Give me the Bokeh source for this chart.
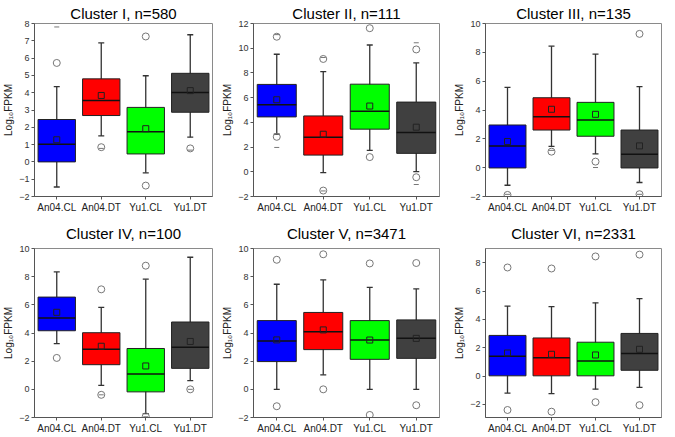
from bokeh.plotting import figure
from bokeh.layouts import gridplot
from bokeh.models import FixedTicker, Range1d
from bokeh.embed import file_html
from bokeh.resources import INLINE

samples = ["An04.CL", "An04.DT", "Yu1.CL", "Yu1.DT"]
colors = ["#0000FF", "#FF0000", "#00FF00", "#404040"]

titles = ["Cluster I, n=580", "Cluster II, n=111", "Cluster III, n=135",
          "Cluster IV, n=100", "Cluster V, n=3471", "Cluster VI, n=2331"]

# Cluster I
c1_low = [-1.45, 1.50, -0.63, 1.43]
c1_q1 = [0.00, 2.68, 0.46, 2.87]
c1_med = [1.02, 3.55, 1.74, 4.01]
c1_q3 = [2.45, 4.80, 3.15, 5.12]
c1_high = [4.35, 6.88, 4.98, 7.35]
c1_mean = [1.28, 3.84, 1.92, 4.12]
c1_out_cat = ["An04.CL", "An04.DT", "Yu1.CL", "Yu1.CL", "Yu1.DT"]
c1_out_val = [5.72, 0.85, 7.25, -1.37, 0.78]
c1_ext_cat = ["An04.CL", "An04.DT", "Yu1.DT"]
c1_ext_val = [7.80, 0.78, 0.68]

# Cluster II
c2_low = [3.04, -0.07, 1.73, 0.01]
c2_q1 = [4.44, 1.35, 3.45, 1.49]
c2_med = [5.43, 2.80, 4.89, 3.18]
c2_q3 = [7.07, 4.52, 7.09, 5.64]
c2_high = [9.51, 8.11, 10.26, 8.81]
c2_mean = [5.83, 3.04, 5.32, 3.61]
c2_out_cat = ["An04.CL", "An04.CL", "An04.DT", "An04.DT", "Yu1.CL", "Yu1.CL", "Yu1.DT", "Yu1.DT"]
c2_out_val = [10.93, 2.83, 9.13, -1.52, 11.62, 1.19, 9.90, -0.44]
c2_ext_cat = ["An04.CL", "An04.CL", "An04.DT", "An04.DT", "Yu1.DT", "Yu1.DT"]
c2_ext_val = [11.10, 1.97, 9.25, -1.55, 10.44, -1.03]

# Cluster III
c3_low = [-1.22, 1.48, 0.95, -1.03]
c3_q1 = [-0.02, 2.61, 2.18, -0.02]
c3_med = [1.51, 3.54, 3.31, 0.93]
c3_q3 = [2.96, 4.85, 4.53, 2.61]
c3_high = [5.57, 8.43, 7.88, 5.62]
c3_mean = [1.81, 4.05, 3.70, 1.51]
c3_out_cat = ["An04.CL", "An04.DT", "Yu1.CL", "Yu1.DT", "Yu1.DT"]
c3_out_val = [-1.89, 1.11, 0.42, 9.28, -1.84]
c3_ext_cat = ["An04.CL", "An04.DT", "Yu1.CL", "Yu1.DT"]
c3_ext_val = [-1.85, 1.20, 0.01, -1.85]

# Cluster IV
c4_low = [3.24, 0.28, -1.72, 0.62]
c4_q1 = [4.16, 1.75, -0.18, 1.49]
c4_med = [5.06, 2.85, 1.08, 2.99]
c4_q3 = [6.55, 4.02, 2.90, 4.78]
c4_high = [8.34, 5.82, 7.82, 9.38]
c4_mean = [5.47, 3.06, 1.66, 3.40]
c4_out_cat = ["An04.CL", "An04.DT", "An04.DT", "Yu1.CL", "Yu1.CL", "Yu1.DT"]
c4_out_val = [2.23, 7.10, -0.39, 8.78, -1.92, 0.00]
c4_ext_cat = ["An04.DT", "Yu1.CL", "Yu1.DT"]
c4_ext_val = [-0.39, -1.95, 0.00]

# Cluster V
c5_low = [0.00, 1.03, 0.00, 0.00]
c5_q1 = [1.97, 2.82, 2.13, 2.20]
c5_med = [3.44, 4.08, 3.50, 3.62]
c5_q3 = [4.88, 5.46, 4.88, 4.93]
c5_high = [7.46, 7.77, 7.24, 7.13]
c5_mean = [3.51, 4.22, 3.50, 3.62]
c5_out_cat = ["An04.CL", "An04.CL", "An04.DT", "An04.DT", "Yu1.CL", "Yu1.CL", "Yu1.DT", "Yu1.DT"]
c5_out_val = [9.20, -1.20, 9.59, 0.00, 8.94, -1.82, 8.97, -1.13]
c5_ext_cat = []
c5_ext_val = []

# Cluster VI
c6_low = [-1.20, -1.24, -0.92, -0.80]
c6_q1 = [0.02, 0.02, 0.02, 0.41]
c6_med = [1.40, 1.29, 1.06, 1.59]
c6_q3 = [2.87, 2.69, 2.39, 3.01]
c6_high = [4.94, 4.90, 5.17, 5.47]
c6_mean = [1.63, 1.54, 1.49, 1.89]
c6_out_cat = ["An04.CL", "An04.CL", "An04.DT", "An04.DT", "Yu1.CL", "Yu1.CL", "Yu1.DT", "Yu1.DT"]
c6_out_val = [7.66, -2.39, 7.59, -2.51, 8.44, -1.84, 8.57, -2.05]
c6_ext_cat = []
c6_ext_val = []

y_ranges = [(-2, 8), (-2, 12), (-2, 10), (-2, 10), (-2, 10), (-2.92, 9.0)]
y_ticks = [list(range(-2, 9, 1)), list(range(-2, 13, 2)), list(range(-2, 11, 2)),
           list(range(-2, 11, 2)), list(range(-2, 11, 2)), list(range(-2, 9, 2))]

clusters = [
    (c1_low, c1_q1, c1_med, c1_q3, c1_high, c1_mean, c1_out_cat, c1_out_val, c1_ext_cat, c1_ext_val),
    (c2_low, c2_q1, c2_med, c2_q3, c2_high, c2_mean, c2_out_cat, c2_out_val, c2_ext_cat, c2_ext_val),
    (c3_low, c3_q1, c3_med, c3_q3, c3_high, c3_mean, c3_out_cat, c3_out_val, c3_ext_cat, c3_ext_val),
    (c4_low, c4_q1, c4_med, c4_q3, c4_high, c4_mean, c4_out_cat, c4_out_val, c4_ext_cat, c4_ext_val),
    (c5_low, c5_q1, c5_med, c5_q3, c5_high, c5_mean, c5_out_cat, c5_out_val, c5_ext_cat, c5_ext_val),
    (c6_low, c6_q1, c6_med, c6_q3, c6_high, c6_mean, c6_out_cat, c6_out_val, c6_ext_cat, c6_ext_val),
]

FONT = "Liberation Sans"
frame_w = [178, 186, 176]
col_left = [28, 35, 36]
col_right = [6, 10, 4]
frame_h = [173, 169]
title_standoff = [4, 14]
BOX_W = 0.84
HALF = BOX_W / 2

figs = []
for k, (low, q1, med, q3, high, mean, oc, ov, ec, ev) in enumerate(clusters):
    col = k % 3
    row = k // 3
    xs = [i + 1 for i in range(len(samples))]
    p = figure(frame_width=frame_w[col], frame_height=frame_h[row], output_backend="svg",
               toolbar_location=None, x_range=Range1d(0.5, 4.5),
               y_range=Range1d(*y_ranges[k]),
               min_border_left=col_left[col], min_border_right=col_right[col],
               min_border_top=0, min_border_bottom=0)
    p.title.text = titles[k]
    p.title.align = "center"
    p.title.text_font = FONT
    p.title.text_font_size = "15px"
    p.title.text_font_style = "normal"
    p.title.text_color = "#000000"
    p.title.standoff = title_standoff[row]

    p.xgrid.visible = False
    p.ygrid.visible = False
    p.outline_line_color = "#8a8a8a"
    p.outline_line_width = 1

    for ax in (p.xaxis[0], p.yaxis[0]):
        ax.axis_line_color = "#555555"
        ax.major_tick_line_color = "#555555"
        ax.major_tick_in = 0
        ax.major_tick_out = 3
        ax.minor_tick_line_color = None
        ax.major_label_text_font = FONT
        ax.major_label_standoff = 2
    p.xaxis.ticker = FixedTicker(ticks=xs)
    p.xaxis.major_label_overrides = {x: s for x, s in zip(xs, samples)}
    p.xaxis.major_label_text_font_size = "10px"
    p.xaxis.major_label_text_color = "#222222"
    p.yaxis.ticker = FixedTicker(ticks=y_ticks[k])
    p.yaxis.major_label_text_font_size = "9px"
    p.yaxis.major_label_text_color = "#333333"
    p.yaxis.axis_label = "Log\u2081\u2080FPKM"
    p.yaxis.axis_label_text_font = FONT
    p.yaxis.axis_label_text_font_size = "10px"
    p.yaxis.axis_label_text_font_style = "normal"
    p.yaxis.axis_label_text_color = "#222222"
    p.yaxis.axis_label_standoff = 2

    # whiskers
    p.segment(x0=xs, y0=low, x1=xs, y1=high, line_color="#333333", line_width=1.3)
    p.scatter(x=xs, y=low, marker="dash", size=6, line_color="#333333", line_width=1.3)
    p.scatter(x=xs, y=high, marker="dash", size=6, line_color="#333333", line_width=1.3)
    # boxes
    p.vbar(x=xs, width=BOX_W, bottom=q1, top=q3, fill_color=colors,
           line_color="#222222", line_width=1)
    # medians
    p.segment(x0=[x - HALF for x in xs], y0=med, x1=[x + HALF for x in xs], y1=med,
              line_color="#111111", line_width=1.5)
    # means
    p.scatter(x=xs, y=mean, marker="square", size=6, fill_color=None,
              line_color="#222222", line_width=1)
    # outliers
    ox = [samples.index(c) + 1 for c in oc]
    p.scatter(x=ox, y=ov, marker="circle", size=7, fill_color=None,
              line_color="#777777", line_width=1)
    if ec:
        ex = [samples.index(c) + 1 for c in ec]
        p.scatter(x=ex, y=ev, marker="dash", size=5, line_color="#777777", line_width=1)
    figs.append(p)

grid = gridplot([figs[0:3], figs[3:6]], toolbar_location=None)
open("out.html", "w").write(file_html(grid, INLINE))
